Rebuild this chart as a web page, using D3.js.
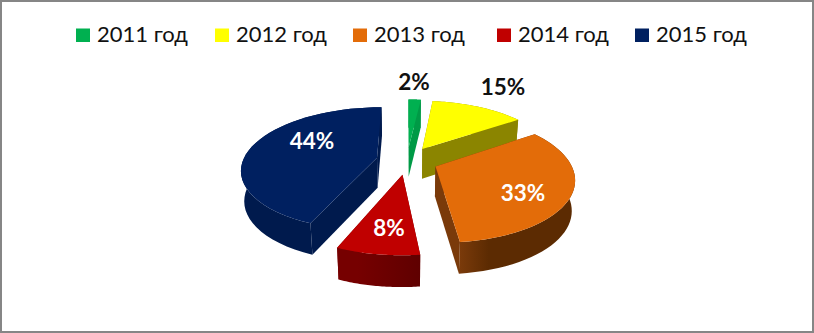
<!DOCTYPE html>
<html><head><meta charset="utf-8">
<script src="https://cdnjs.cloudflare.com/ajax/libs/d3/7.8.5/d3.min.js"></script>
<style>html,body{margin:0;padding:0;background:#fff}svg{display:block}text{font-family:Lato,"Open Sans",sans-serif}</style>
</head><body><svg id="c" width="814" height="333"></svg>
<script>
// data
const categories = ["2011 год","2012 год","2013 год","2014 год","2015 год"];
const sliceShares = [1.8, 13.6, 32.85, 8, 43.75];
const sliceLabels = ["2%","15%","33%","8%","44%"];
// style
const topColors = ["#00b050","#ffff00","#e36c09","#c00000","#002060"];
const wallColors = ["#009a46","#8b8500","#5c2b02","#760000","#001a4d"];
const wallLight = ["#009a46","#8b8500","#7a3a0a","#8a0000","#001f58"];
const labelColors = ["#111","#111","#fff","#fff","#fff"];
const legendSwatchX = [76,215,353,497,635];
const labelPos = [[414,82],[503,87],[523,193],[389,228],[312,141]];
// layout / projection
const cx=407, cy=160.5, A=134, B=60.4, persp=0.177, explode=0.23, depth=30;
const sx=d3.scaleLinear().domain([0,1]).range([0,A]);
const sy=d3.scaleLinear().domain([0,1]).range([0,-B]);
const proj=(X,Y,down=0)=>{const s=1/(1+persp*Y), k=down?0.98:1;
  return [cx+sx(X)*s*k, cy+sy(Y)*s+down*(1-0.05*Y)];};
const svg=d3.select("#c");
const defs=svg.append("defs");
svg.append("rect").attr("x",1).attr("y",1).attr("width",812).attr("height",331)
 .attr("fill","#fff").attr("stroke","#868686").attr("stroke-width",2);
// legend
const lg=svg.append("g").selectAll("g").data(categories).join("g")
 .attr("transform",(d,i)=>`translate(${legendSwatchX[i]},0)`);
lg.append("rect").attr("x",0).attr("y",28.5).attr("width",14).attr("height",13.5).attr("fill",(d,i)=>topColors[i]);
lg.append("text").attr("x",21).attr("y",42).attr("font-size",22).attr("fill","#111").text(d=>d);
// pie
const arcs=d3.pie().sort(null).value(d=>d).startAngle(0).endAngle(2*Math.PI)(sliceShares);
const line=d3.line();
const order=[0,1,4,2,3];
const pie=svg.append("g");
order.forEach(i=>{
  const a=arcs[i], mid=(a.startAngle+a.endAngle)/2;
  const ox=explode*Math.sin(mid), oy=explode*Math.cos(mid);
  const rim=d3.range(0,41).map(k=>{const t=a.startAngle+(a.endAngle-a.startAngle)*k/40;
    return [ox+Math.sin(t),oy+Math.cos(t)];});
  const P=(p,d=0)=>proj(p[0],p[1],d);
  const apex=[ox,oy];
  const g=pie.append("g");
  const id="w"+i;
  const xs=rim.map(p=>P(p)[0]);
  const grad=defs.append("linearGradient").attr("id",id).attr("gradientUnits","userSpaceOnUse")
    .attr("x1",d3.min(xs)).attr("x2",d3.max(xs)).attr("y1",0).attr("y2",0);
  grad.append("stop").attr("offset",0).attr("stop-color",i==2?wallLight[i]:wallColors[i]);
  grad.append("stop").attr("offset",0.25).attr("stop-color",wallColors[i]);
  grad.append("stop").attr("offset",1).attr("stop-color",i==3?"#5f0000":wallColors[i]);
  // radial walls
  [rim[0],rim[40]].forEach(e=>{
    g.append("path").attr("d",line([P(apex),P(e),P(e,depth),P(apex,depth)])+"Z").attr("fill",i==2?wallLight[i]:wallColors[i]);
  });
  // rim wall
  g.append("path").attr("d",line(rim.map(p=>P(p)).concat(rim.slice().reverse().map(p=>P(p,depth))))+"Z").attr("fill",`url(#${id})`);
  // top face
  g.append("path").attr("d",line([P(apex),...rim.map(p=>P(p))])+"Z").attr("fill",topColors[i]);
});
svg.append("g").selectAll("text").data(sliceLabels).join("text")
 .attr("x",(d,i)=>labelPos[i][0]).attr("y",(d,i)=>labelPos[i][1]+8)
 .attr("text-anchor","middle").attr("font-size",22.5).attr("font-weight",700)
 .attr("fill",(d,i)=>labelColors[i]).text(d=>d);
</script></body></html>
